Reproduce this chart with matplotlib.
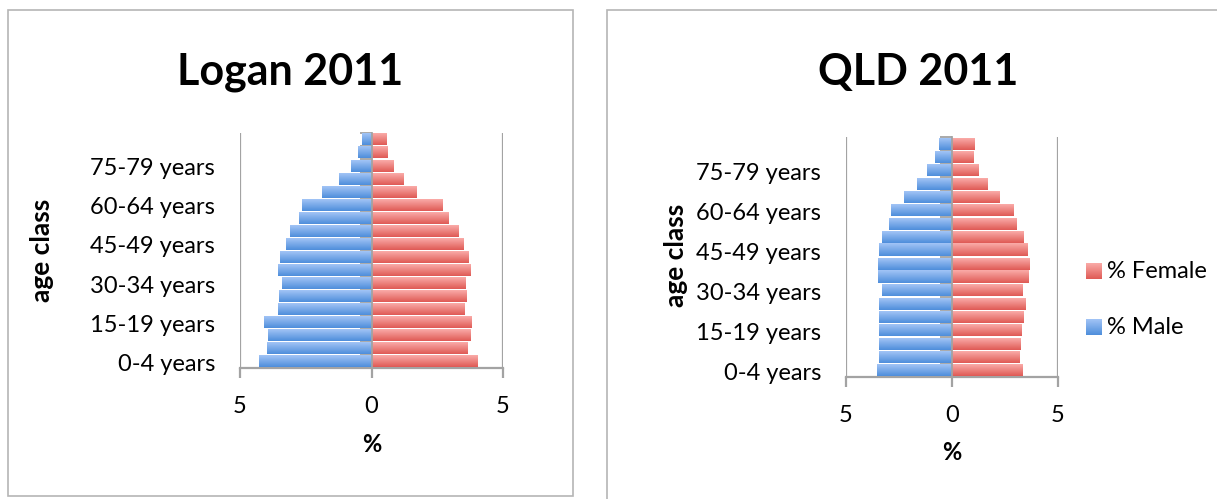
"""Population pyramids for Logan and Queensland, 2011 census"""

import matplotlib
matplotlib.use("Agg")
import matplotlib.pyplot as plt
import numpy as np
from matplotlib.colors import LinearSegmentedColormap
from matplotlib.patches import Rectangle
from matplotlib.transforms import offset_copy

plt.rcParams['font.family'] = ['Lato', 'DejaVu Sans']

age_classes = ["0-4 years", "5-9 years", "10-14 years", "15-19 years", "20-24 years",
               "25-29 years", "30-34 years", "35-39 years", "40-44 years", "45-49 years",
               "50-54 years", "55-59 years", "60-64 years", "65-69 years", "70-74 years",
               "75-79 years", "80-84 years", "85+ years"]

logan_male = [4.28, 3.97, 3.94, 4.09, 3.55, 3.51, 3.40, 3.55, 3.47, 3.24,
              3.09, 2.74, 2.63, 1.90, 1.24, 0.78, 0.51, 0.36]
logan_female = [4.01, 3.63, 3.74, 3.78, 3.51, 3.59, 3.55, 3.74, 3.67, 3.47,
                3.28, 2.90, 2.67, 1.71, 1.21, 0.82, 0.59, 0.55]

qld_male = [3.56, 3.42, 3.42, 3.46, 3.42, 3.46, 3.28, 3.51, 3.51, 3.42,
            3.28, 2.99, 2.90, 2.28, 1.67, 1.20, 0.82, 0.63]
qld_female = [3.34, 3.20, 3.24, 3.29, 3.39, 3.48, 3.34, 3.62, 3.67, 3.57,
              3.39, 3.06, 2.91, 2.25, 1.69, 1.26, 1.02, 1.07]

xticks = [-5, 0, 5]
xtick_labels = ["5", "0", "5"]

W, H = 1217, 499
GREY = "#a3a3a3"
FS = 17

male_cmap = LinearSegmentedColormap.from_list("male", ["#4e8edb", "#a2c4f6"])
female_cmap = LinearSegmentedColormap.from_list("female", ["#df5a55", "#faaba8"])
ramp = np.linspace(0, 1, 64).reshape(-1, 1)


def px_axes(fig, x0, y0, x1, y1):
    """Add axes given pixel corners (top-left origin)"""
    return fig.add_axes([x0 / W, 1 - y1 / H, (x1 - x0) / W, (y1 - y0) / H])


def shade_bars(ax, bars, cmap):
    """Paint each bar with a vertical gradient, lighter at the top"""
    for b in bars:
        x0, y0 = b.get_x(), b.get_y()
        x1, y1 = x0 + b.get_width(), y0 + b.get_height()
        ax.imshow(ramp, cmap=cmap, origin="lower", aspect="auto",
                  extent=[min(x0, x1), max(x0, x1), y0, y1], zorder=3)


def pyramid(ax, male, female):
    y = np.arange(len(age_classes))
    mbars = ax.barh(y, -np.array(male), height=0.9, color="#7aaae8",
                    zorder=2, label="% Male")
    fbars = ax.barh(y, female, height=0.9, color="#ee8582",
                    zorder=2, label="% Female")
    shade_bars(ax, mbars, male_cmap)
    shade_bars(ax, fbars, female_cmap)

    ax.set_xlim(-5, 5)
    ax.set_ylim(-0.5, len(age_classes) - 0.5)

    for s in ["top", "right"]:
        ax.spines[s].set_visible(False)
    ax.spines["left"].set_position(("data", 0))
    ax.spines["left"].set_color(GREY)
    ax.spines["bottom"].set_color(GREY)
    ax.spines["left"].set_zorder(4)
    ax.spines["bottom"].set_linewidth(1.6)
    ax.spines["left"].set_linewidth(1.3)

    # vertical gridlines at the outer ticks
    for v in (-5, 5):
        ax.axvline(v, color=GREY, lw=1.6, zorder=1)

    ax.set_xticks(xticks)
    ax.set_xticklabels(xtick_labels, fontsize=FS)
    ax.tick_params(axis="x", length=7, width=1.6, color=GREY, pad=13)

    ax.set_yticks(np.arange(len(age_classes) + 1) - 0.5)
    ax.set_yticklabels([])
    ax.tick_params(axis="y", length=9, width=1.3, color=GREY)

    # category labels sit to the left of the plot area
    lab_tr = offset_copy(ax.transData, fig=ax.figure, x=-25, y=-3, units="dots")
    for i in range(0, len(age_classes), 3):
        ax.text(-5, i, age_classes[i], ha="right", va="center", fontsize=FS,
                transform=lab_tr, clip_on=False)

    ax.set_facecolor("none")
    return mbars, fbars


fig = plt.figure(figsize=(W / 100, H / 100), dpi=100)

# chart frames
fig.patches.append(Rectangle((8 / W, 1 - 496 / H), 565 / W, 486 / H,
                             transform=fig.transFigure, fill=False,
                             edgecolor="#b5b5b5", lw=1.2))
fig.patches.append(Rectangle((607 / W, -0.05), 700 / W, 1 - 10 / H + 0.05,
                             transform=fig.transFigure, fill=False,
                             edgecolor="#b5b5b5", lw=1.2))

ax1 = px_axes(fig, 240, 133, 503, 368)
pyramid(ax1, logan_male, logan_female)
ax2 = px_axes(fig, 846, 137, 1058, 377)
mb, fb = pyramid(ax2, qld_male, qld_female)

fig.text(290 / W, 1 - 72 / H, "Logan 2011", ha="center", va="center",
         fontsize=31, fontweight="bold")
fig.text(918 / W, 1 - 72 / H, "QLD 2011", ha="center", va="center",
         fontsize=31, fontweight="bold")

fig.text(42 / W, 1 - 250 / H, "age class", ha="center", va="center",
         rotation=90, fontsize=19, fontweight="bold")
fig.text(676 / W, 1 - 255 / H, "age class", ha="center", va="center",
         rotation=90, fontsize=19, fontweight="bold")

fig.text(372 / W, 1 - 445 / H, "%", ha="center", va="center",
         fontsize=FS, fontweight="bold")
fig.text(952 / W, 1 - 453 / H, "%", ha="center", va="center",
         fontsize=FS, fontweight="bold")

# legend keys
for label, cmap, yc in [("% Female", female_cmap, 271), ("% Male", male_cmap, 327)]:
    kax = px_axes(fig, 1086, yc - 8, 1102, yc + 8)
    kax.imshow(ramp, cmap=cmap, origin="lower", aspect="auto")
    kax.axis("off")
    fig.text(1107 / W, 1 - yc / H, label, ha="left", va="center", fontsize=FS)

fig.savefig("out.png", dpi=100)
